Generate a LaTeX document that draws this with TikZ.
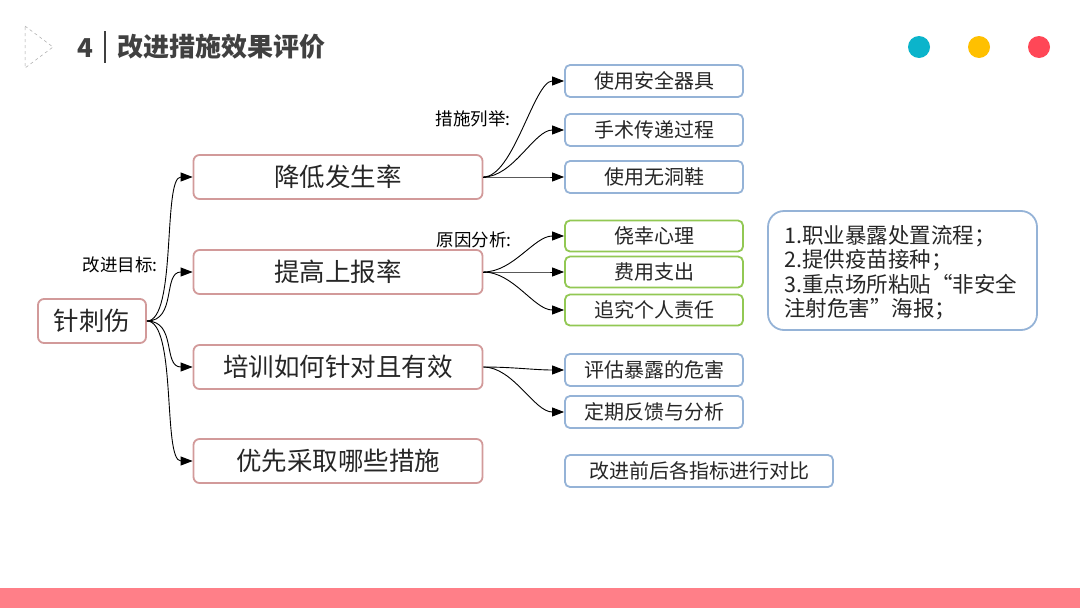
\documentclass[tikz,border=0pt]{standalone}
\usepackage{fontspec}
\setmainfont{Noto Sans CJK SC}
\newfontfamily\cjk{Noto Sans CJK SC}
\usetikzlibrary{arrows.meta}
\definecolor{pinkb}{HTML}{D29A9A}
\definecolor{blueb}{HTML}{95B3D7}
\definecolor{greenb}{HTML}{92C853}
\definecolor{txt}{HTML}{262626}
\definecolor{ttl}{HTML}{404040}
\definecolor{cA}{HTML}{0BB4CB}
\definecolor{cB}{HTML}{FFC000}
\definecolor{cC}{HTML}{FF4757}
\definecolor{barc}{HTML}{FF7F88}
\tikzset{
  mainbox/.style={draw=pinkb, line width=1.8pt, rounded corners=6pt, minimum width=289pt, minimum height=44pt, inner sep=0pt, font=\cjk\fontsize{25.5}{25.5}\selectfont, text=txt},
  rootbox/.style={mainbox, minimum width=108pt},
  subbox/.style={draw=blueb, line width=1.8pt, rounded corners=5pt, minimum width=178pt, minimum height=32pt, inner sep=0pt, font=\cjk\fontsize{20}{20}\selectfont, text=txt},
  gsubbox/.style={subbox, draw=greenb, minimum height=31pt},
  lbl/.style={font=\cjk\fontsize{17.5}{17.5}\selectfont, text=black, inner sep=0pt},
  conn/.style={draw=black, line width=0.9pt, -{Triangle[length=12pt,width=9pt]}},
}
\begin{document}
\begin{tikzpicture}[x=1pt,y=-1pt]
\useasboundingbox (0,0) rectangle (1080,608);
\fill[white] (0,0) rectangle (1080,608);
% header
\draw[gray!70, dashed, line width=0.5pt] (25,26) -- (53,47) -- (25,68) -- cycle;
\node[font=\cjk\bfseries\fontsize{26}{26}\selectfont, text=ttl, inner sep=0pt] (num) at (85,48) {4};
\draw[ttl, line width=1.5pt] (105,31) -- (105,63);
\node[font=\cjk\bfseries\fontsize{26}{26}\selectfont, text=ttl, inner sep=0pt, anchor=west] (title) at (117,47) {改进措施效果评价};
\fill[cA] (919,47) circle (11);
\fill[cB] (979,47) circle (11);
\fill[cC] (1039,47) circle (11);
% bottom bar
\fill[barc] (0,588) rectangle (1080,608);
% main nodes
\node[rootbox] (root) at (92,321) {针刺伤};
\node[mainbox] (n1) at (338,177) {降低发生率};
\node[mainbox] (n2) at (338,272) {提高上报率};
\node[mainbox] (n3) at (338,367) {培训如何针对且有效};
\node[mainbox] (n4) at (338,461) {优先采取哪些措施};
% sub nodes
\node[subbox] (a1) at (654,81) {使用安全器具};
\node[subbox] (a2) at (654,130) {手术传递过程};
\node[subbox] (a3) at (654,177) {使用无洞鞋};
\node[gsubbox] (b1) at (654,236) {侥幸心理};
\node[gsubbox] (b2) at (654,272) {费用支出};
\node[gsubbox] (b3) at (654,310) {追究个人责任};
\node[subbox] (c1) at (654,370) {评估暴露的危害};
\node[subbox] (c2) at (654,412) {定期反馈与分析};
\node[subbox, minimum width=268pt] (d1) at (699,471) {改进前后各指标进行对比};
% info box
\node[draw=blueb, line width=1.8pt, rounded corners=16pt, minimum width=269pt, minimum height=119pt, inner sep=0pt] (info) at (902.5,270.5) {};
\node[anchor=north west, align=left, inner sep=0pt, font=\cjk\fontsize{21.5}{24.5}\selectfont, text=txt] (infotxt) at (784,225) {1.职业暴露处置流程；\\2.提供疫苗接种；\\3.重点场所粘贴“非安全\\注射危害”海报；};
% labels
\node[lbl] (l1) at (120,265) {改进目标:};
\node[lbl] (l2) at (473,119) {措施列举:};
\node[lbl] (l3) at (474,240) {原因分析:};
% connectors
\foreach \t in {n1,n2,n3,n4}
  \draw[conn] (root.east) to[out=0,in=180,distance=30pt] (\t.west);
\foreach \t in {a1,a2,a3}
  \draw[conn] (n1.east) to[out=0,in=180,distance=30pt] (\t.west);
\foreach \t in {b1,b2,b3}
  \draw[conn] (n2.east) to[out=0,in=180,distance=30pt] (\t.west);
\foreach \t in {c1,c2}
  \draw[conn] (n3.east) to[out=0,in=180,distance=30pt] (\t.west);
\end{tikzpicture}
\end{document}
